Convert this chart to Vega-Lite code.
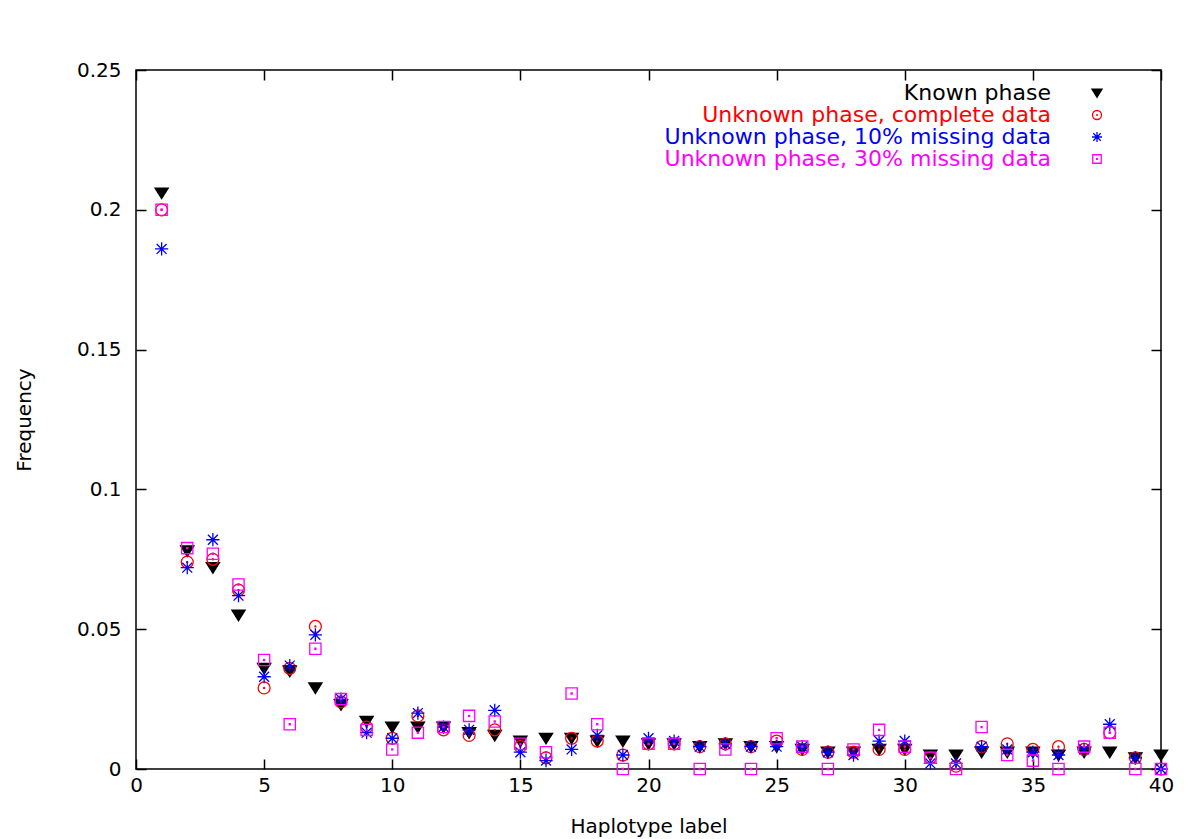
{
  "$schema": "https://vega.github.io/schema/vega-lite/v6.json",
  "width": 1025,
  "height": 699,
  "autosize": "none",
  "padding": {"left": 136, "top": 70, "right": 39, "bottom": 70},
  "background": "white",
  "config": {
    "font": "DejaVu Sans",
    "view": {"stroke": "black", "strokeWidth": 1.5},
    "axis": {"labelFont": "DejaVu Sans", "titleFont": "DejaVu Sans", "labelFontSize": 20, "titleFontSize": 20, "labelColor": "black", "titleColor": "black", "titleFontWeight": "normal", "tickColor": "black", "tickWidth": 1.5, "domain": false, "grid": false}
  },
  "data": {"values": [
    {"h":1,"Known phase":0.206,"Unknown phase, complete data":0.200,"Unknown phase, 10% missing data":0.186,"Unknown phase, 30% missing data":0.200},
    {"h":2,"Known phase":0.078,"Unknown phase, complete data":0.074,"Unknown phase, 10% missing data":0.072,"Unknown phase, 30% missing data":0.079},
    {"h":3,"Known phase":0.072,"Unknown phase, complete data":0.075,"Unknown phase, 10% missing data":0.082,"Unknown phase, 30% missing data":0.077},
    {"h":4,"Known phase":0.055,"Unknown phase, complete data":0.064,"Unknown phase, 10% missing data":0.062,"Unknown phase, 30% missing data":0.066},
    {"h":5,"Known phase":0.036,"Unknown phase, complete data":0.029,"Unknown phase, 10% missing data":0.033,"Unknown phase, 30% missing data":0.039},
    {"h":6,"Known phase":0.035,"Unknown phase, complete data":0.036,"Unknown phase, 10% missing data":0.037,"Unknown phase, 30% missing data":0.016},
    {"h":7,"Known phase":0.029,"Unknown phase, complete data":0.051,"Unknown phase, 10% missing data":0.048,"Unknown phase, 30% missing data":0.043},
    {"h":8,"Known phase":0.023,"Unknown phase, complete data":0.024,"Unknown phase, 10% missing data":0.025,"Unknown phase, 30% missing data":0.025},
    {"h":9,"Known phase":0.017,"Unknown phase, complete data":0.015,"Unknown phase, 10% missing data":0.013,"Unknown phase, 30% missing data":0.014},
    {"h":10,"Known phase":0.015,"Unknown phase, complete data":0.011,"Unknown phase, 10% missing data":0.011,"Unknown phase, 30% missing data":0.007},
    {"h":11,"Known phase":0.015,"Unknown phase, complete data":0.019,"Unknown phase, 10% missing data":0.020,"Unknown phase, 30% missing data":0.013},
    {"h":12,"Known phase":0.015,"Unknown phase, complete data":0.014,"Unknown phase, 10% missing data":0.015,"Unknown phase, 30% missing data":0.015},
    {"h":13,"Known phase":0.013,"Unknown phase, complete data":0.012,"Unknown phase, 10% missing data":0.014,"Unknown phase, 30% missing data":0.019},
    {"h":14,"Known phase":0.012,"Unknown phase, complete data":0.014,"Unknown phase, 10% missing data":0.021,"Unknown phase, 30% missing data":0.017},
    {"h":15,"Known phase":0.010,"Unknown phase, complete data":0.008,"Unknown phase, 10% missing data":0.006,"Unknown phase, 30% missing data":0.009},
    {"h":16,"Known phase":0.011,"Unknown phase, complete data":0.004,"Unknown phase, 10% missing data":0.003,"Unknown phase, 30% missing data":0.006},
    {"h":17,"Known phase":0.011,"Unknown phase, complete data":0.011,"Unknown phase, 10% missing data":0.007,"Unknown phase, 30% missing data":0.027},
    {"h":18,"Known phase":0.010,"Unknown phase, complete data":0.010,"Unknown phase, 10% missing data":0.012,"Unknown phase, 30% missing data":0.016},
    {"h":19,"Known phase":0.010,"Unknown phase, complete data":0.005,"Unknown phase, 10% missing data":0.005,"Unknown phase, 30% missing data":0.0},
    {"h":20,"Known phase":0.009,"Unknown phase, complete data":0.009,"Unknown phase, 10% missing data":0.011,"Unknown phase, 30% missing data":0.009},
    {"h":21,"Known phase":0.009,"Unknown phase, complete data":0.009,"Unknown phase, 10% missing data":0.010,"Unknown phase, 30% missing data":0.009},
    {"h":22,"Known phase":0.008,"Unknown phase, complete data":0.008,"Unknown phase, 10% missing data":0.008,"Unknown phase, 30% missing data":0.0},
    {"h":23,"Known phase":0.009,"Unknown phase, complete data":0.009,"Unknown phase, 10% missing data":0.009,"Unknown phase, 30% missing data":0.007},
    {"h":24,"Known phase":0.008,"Unknown phase, complete data":0.008,"Unknown phase, 10% missing data":0.008,"Unknown phase, 30% missing data":0.0},
    {"h":25,"Known phase":0.008,"Unknown phase, complete data":0.010,"Unknown phase, 10% missing data":0.008,"Unknown phase, 30% missing data":0.011},
    {"h":26,"Known phase":0.007,"Unknown phase, complete data":0.007,"Unknown phase, 10% missing data":0.008,"Unknown phase, 30% missing data":0.008},
    {"h":27,"Known phase":0.006,"Unknown phase, complete data":0.006,"Unknown phase, 10% missing data":0.006,"Unknown phase, 30% missing data":0.0},
    {"h":28,"Known phase":0.006,"Unknown phase, complete data":0.006,"Unknown phase, 10% missing data":0.005,"Unknown phase, 30% missing data":0.007},
    {"h":29,"Known phase":0.007,"Unknown phase, complete data":0.007,"Unknown phase, 10% missing data":0.010,"Unknown phase, 30% missing data":0.014},
    {"h":30,"Known phase":0.007,"Unknown phase, complete data":0.007,"Unknown phase, 10% missing data":0.010,"Unknown phase, 30% missing data":0.008},
    {"h":31,"Known phase":0.005,"Unknown phase, complete data":0.004,"Unknown phase, 10% missing data":0.002,"Unknown phase, 30% missing data":0.004},
    {"h":32,"Known phase":0.005,"Unknown phase, complete data":0.001,"Unknown phase, 10% missing data":0.002,"Unknown phase, 30% missing data":0.0},
    {"h":33,"Known phase":0.006,"Unknown phase, complete data":0.008,"Unknown phase, 10% missing data":0.008,"Unknown phase, 30% missing data":0.015},
    {"h":34,"Known phase":0.006,"Unknown phase, complete data":0.009,"Unknown phase, 10% missing data":0.007,"Unknown phase, 30% missing data":0.005},
    {"h":35,"Known phase":0.006,"Unknown phase, complete data":0.007,"Unknown phase, 10% missing data":0.006,"Unknown phase, 30% missing data":0.003},
    {"h":36,"Known phase":0.005,"Unknown phase, complete data":0.008,"Unknown phase, 10% missing data":0.005,"Unknown phase, 30% missing data":0.0},
    {"h":37,"Known phase":0.006,"Unknown phase, complete data":0.007,"Unknown phase, 10% missing data":0.007,"Unknown phase, 30% missing data":0.008},
    {"h":38,"Known phase":0.006,"Unknown phase, complete data":0.013,"Unknown phase, 10% missing data":0.016,"Unknown phase, 30% missing data":0.013},
    {"h":39,"Known phase":0.004,"Unknown phase, complete data":0.004,"Unknown phase, 10% missing data":0.004,"Unknown phase, 30% missing data":0.0},
    {"h":40,"Known phase":0.005,"Unknown phase, complete data":0.0,"Unknown phase, 10% missing data":0.0,"Unknown phase, 30% missing data":0.0}
  ]},
  "transform": [
    {"fold": ["Known phase", "Unknown phase, complete data", "Unknown phase, 10% missing data", "Unknown phase, 30% missing data"], "as": ["series", "freq"]}
  ],
  "resolve": {"axis": {"x": "independent", "y": "independent"}},
  "layer": [
    {
      "mark": {"type": "point", "filled": false, "strokeWidth": 1.3, "size": 175, "opacity": 1},
      "encoding": {
        "x": {"field": "h", "type": "quantitative", "scale": {"domain": [0, 40], "nice": false, "zero": false}, "axis": {"orient": "bottom", "values": [0,5,10,15,20,25,30,35,40], "tickSize": -10, "labelPadding": 16, "title": "Haplotype label", "titlePadding": 21, "labelFlush": false}},
        "y": {"field": "freq", "type": "quantitative", "scale": {"domain": [0, 0.25], "nice": false}, "axis": {"orient": "left", "values": [0,0.05,0.1,0.15,0.2,0.25], "format": "~g", "tickSize": -10, "labelPadding": 25, "title": "Frequency", "titlePadding": 42, "labelFlush": false}},
        "color": {"field": "series", "type": "nominal",
          "scale": {"domain": ["Known phase", "Unknown phase, complete data", "Unknown phase, 10% missing data", "Unknown phase, 30% missing data"], "range": ["#000000", "#ff0000", "#0000ff", "#ff00ff"]},
          "legend": {"title": null, "orient": "none", "legendX": 950, "legendY": 12, "labelAlign": "right", "labelOffset": -57, "labelFontSize": 22, "labelFont": "DejaVu Sans", "labelLimit": 600, "symbolSize": 100, "symbolStrokeWidth": 1.3, "rowPadding": 0,
            "labelColor": {"expr": "datum.value === 'Known phase' ? '#000000' : datum.value === 'Unknown phase, complete data' ? '#ff0000' : datum.value === 'Unknown phase, 10% missing data' ? '#0000ff' : '#ff00ff'"}
          }},
        "shape": {"field": "series", "type": "nominal",
          "scale": {"domain": ["Known phase", "Unknown phase, complete data", "Unknown phase, 10% missing data", "Unknown phase, 30% missing data"],
            "range": ["M-1,-0.75L1,-0.75L0,0.85ZM-0.906,-0.6L0.906,-0.6M-0.8125,-0.45L0.8125,-0.45M-0.719,-0.3L0.719,-0.3M-0.625,-0.15L0.625,-0.15M-0.531,0L0.531,0M-0.4375,0.15L0.4375,0.15M-0.344,0.3L0.344,0.3M-0.25,0.45L0.25,0.45M-0.156,0.6L0.156,0.6", "M0.9,0A0.9,0.9 0 1,1 -0.9,0A0.9,0.9 0 1,1 0.9,0ZM0.08,0A0.08,0.08 0 1,1 -0.08,0A0.08,0.08 0 1,1 0.08,0Z", "M-1,0L1,0M0,-1L0,1M-0.75,-0.75L0.75,0.75M-0.75,0.75L0.75,-0.75", "M-0.85,-0.85L0.85,-0.85L0.85,0.85L-0.85,0.85ZM-0.08,-0.08L0.08,-0.08L0.08,0.08L-0.08,0.08Z"]},
          "legend": null},
        "fill": {"condition": {"test": "datum.series === 'Known phase'", "value": "#000000"}, "value": "transparent"}
      }
    },
    {
      "mark": {"type": "point", "opacity": 0},
      "encoding": {
        "x": {"field": "h", "type": "quantitative", "axis": {"orient": "top", "values": [0,5,10,15,20,25,30,35,40], "tickSize": -10, "labels": false, "title": null}},
        "y": {"field": "freq", "type": "quantitative", "axis": {"orient": "right", "values": [0,0.05,0.1,0.15,0.2,0.25], "tickSize": -10, "labels": false, "title": null}}
      }
    }
  ]
}
